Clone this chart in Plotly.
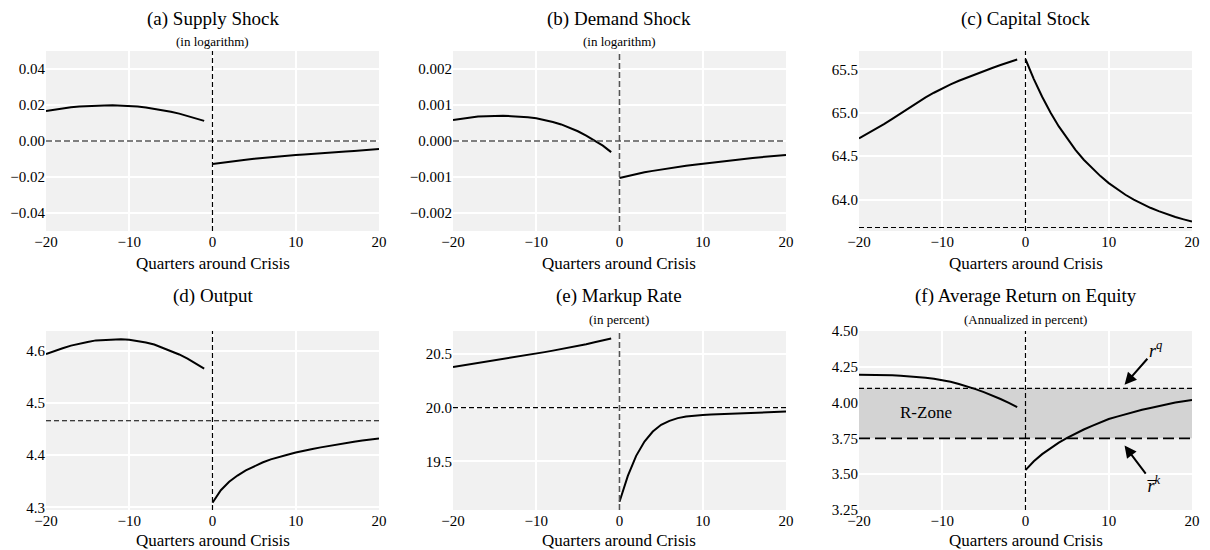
import plotly.graph_objects as go
from plotly.subplots import make_subplots

# ---------------- data ----------------
t_pre = list(range(-20, 0))
t_post = list(range(0, 21))

supply_pre = [0.0167, 0.0175, 0.0182, 0.0187, 0.0191, 0.0194, 0.0196, 0.0197, 0.0198, 0.0197,
              0.0195, 0.0191, 0.0186, 0.0179, 0.0171, 0.0162, 0.0152, 0.0140, 0.0127, 0.0112]
supply_post = [-0.0128, -0.0121, -0.0115, -0.0109, -0.0104, -0.0099, -0.0094, -0.0090, -0.0086, -0.0082,
               -0.0078, -0.0075, -0.0071, -0.0068, -0.0065, -0.0062, -0.0059, -0.0056, -0.0053, -0.0049, -0.0045]

demand_pre = [0.00058, 0.00062, 0.00065, 0.00068, 0.00069, 0.00070, 0.00070, 0.00069, 0.00068, 0.00066,
              0.00063, 0.00059, 0.00053, 0.00046, 0.00037, 0.00027, 0.00015, 0.00002, -0.00013, -0.00031]
demand_post = [-0.00103, -0.00097, -0.00092, -0.00087, -0.00083, -0.00079, -0.00075, -0.00072, -0.00069, -0.00066,
               -0.00063, -0.00060, -0.00057, -0.00055, -0.00052, -0.00050, -0.00047, -0.00045, -0.00043, -0.00041, -0.00039]

capital_pre = [64.704, 64.756, 64.811, 64.869, 64.930, 64.993, 65.057, 65.119, 65.177, 65.230,
               65.280, 65.326, 65.368, 65.407, 65.444, 65.480, 65.515, 65.549, 65.581, 65.612]
capital_post = [65.615, 65.387, 65.184, 65.004, 64.843, 64.701, 64.573, 64.460, 64.360, 64.271,
                64.191, 64.120, 64.057, 64.001, 63.952, 63.907, 63.868, 63.833, 63.801, 63.774, 63.749]

output_pre = [4.594, 4.600, 4.605, 4.610, 4.614, 4.617, 4.620, 4.621, 4.622, 4.622,
              4.621, 4.619, 4.616, 4.612, 4.606, 4.600, 4.593, 4.585, 4.576, 4.566]
output_post = [4.309, 4.333, 4.349, 4.361, 4.371, 4.379, 4.386, 4.392, 4.397, 4.401,
               4.405, 4.409, 4.412, 4.415, 4.418, 4.421, 4.423, 4.426, 4.428, 4.430, 4.432]

markup_pre = [20.376, 20.388, 20.400, 20.412, 20.424, 20.437, 20.449, 20.462, 20.474, 20.487,
              20.500, 20.514, 20.528, 20.542, 20.557, 20.572, 20.588, 20.605, 20.622, 20.640]
markup_post = [19.127, 19.367, 19.552, 19.685, 19.778, 19.840, 19.877, 19.902, 19.918, 19.927,
               19.932, 19.935, 19.938, 19.940, 19.942, 19.944, 19.947, 19.951, 19.955, 19.959, 19.963]

roe_pre = [4.195, 4.195, 4.194, 4.193, 4.191, 4.188, 4.184, 4.179, 4.173, 4.166,
           4.158, 4.145, 4.130, 4.113, 4.094, 4.073, 4.050, 4.025, 3.998, 3.968]
roe_post = [3.528, 3.590, 3.640, 3.683, 3.720, 3.754, 3.784, 3.812, 3.838, 3.862,
            3.885, 3.902, 3.919, 3.935, 3.950, 3.963, 3.977, 3.989, 4.000, 4.010, 4.018]

steady_supply = 0.0
steady_demand = 0.0
steady_capital = 63.68
steady_output = 4.466
steady_markup = 20.0
r_q = 4.10
r_k_bar = 3.75

titles = ["(a) Supply Shock", "(b) Demand Shock", "(c) Capital Stock",
          "(d) Output", "(e) Markup Rate", "(f) Average Return on Equity"]
subtitles = ["(in logarithm)", "(in logarithm)", "", "", "(in percent)", "(Annualized in percent)"]
x_ticks = [-20, -10, 0, 10, 20]
y_ticks = [
    [-0.04, -0.02, 0.0, 0.02, 0.04],
    [-0.002, -0.001, 0.0, 0.001, 0.002],
    [64.0, 64.5, 65.0, 65.5],
    [4.3, 4.4, 4.5, 4.6],
    [19.5, 20.0, 20.5],
    [3.25, 3.50, 3.75, 4.00, 4.25, 4.50],
]
y_ranges = [[-0.05, 0.05], [-0.0025, 0.0025], [63.64, 65.71], [4.295, 4.638], [19.05, 20.71], [3.25, 4.50]]
y_formats = [".2f", ".3f", ".1f", ".1f", ".1f", ".2f"]
series = [(supply_pre, supply_post), (demand_pre, demand_post), (capital_pre, capital_post),
          (output_pre, output_post), (markup_pre, markup_post), (roe_pre, roe_post)]

# ---------------- figure ----------------
W, H = 1210, 550
OFF = 8  # page body margin
FONT = "Liberation Serif"
col_px = [(46, 379), (453, 786), (859, 1192)]
row_px = [(51, 231), (331, 510)]

def px_x(p):
    return (p - OFF) / W

def px_y(p):
    return 1 - (p - OFF) / H

fig = make_subplots(rows=2, cols=3)

# R-zone band in panel (f), drawn first so the curves sit on top
fig.add_trace(go.Scatter(x=[-20, 20, 20, -20], y=[r_k_bar, r_k_bar, r_q, r_q], fill="toself",
                         fillcolor="#d3d3d3", mode="lines", line=dict(width=0),
                         showlegend=False, hoverinfo="skip"), row=2, col=3)

for i, (pre, post) in enumerate(series):
    r, c = i // 3 + 1, i % 3 + 1
    for xs, ys in ((t_pre, pre), (t_post, post)):
        fig.add_trace(go.Scatter(x=xs, y=ys, mode="lines", line=dict(color="black", width=2),
                                 showlegend=False, hoverinfo="skip"), row=r, col=c)

for i in range(6):
    r, c = i // 3, i % 3
    n = "" if i == 0 else str(i + 1)
    x0, x1 = col_px[c]
    y0, y1 = row_px[r]
    fig.layout["xaxis" + n].update(
        domain=[px_x(x0), px_x(x1)], range=[-20, 20], tickvals=x_ticks, showgrid=True,
        gridcolor="white", gridwidth=1.5, zeroline=False, showline=False, ticks="",
        automargin=False, tickfont=dict(family=FONT, size=15, color="black"))
    fig.layout["yaxis" + n].update(
        domain=[px_y(y1), px_y(y0)], range=y_ranges[i], tickvals=y_ticks[i],
        tickformat=y_formats[i], showgrid=True, gridcolor="white", gridwidth=1.5,
        zeroline=False, showline=False, ticks="", automargin=False,
        tickfont=dict(family=FONT, size=15, color="black"))
    cx = px_x((x0 + x1) / 2)
    title_y = 19 if r == 0 else 296
    fig.add_annotation(text=titles[i], x=cx, y=px_y(title_y), xref="paper", yref="paper",
                       showarrow=False, xanchor="center", yanchor="middle",
                       font=dict(family=FONT, size=19, color="black"))
    if subtitles[i]:
        fig.add_annotation(text=subtitles[i], x=cx, y=px_y(title_y + 23), xref="paper", yref="paper",
                           showarrow=False, xanchor="center", yanchor="middle",
                           font=dict(family=FONT, size=13, color="black"))
    ax_y = 263 if r == 0 else 540
    fig.add_annotation(text="Quarters around Crisis", x=cx, y=px_y(ax_y), xref="paper", yref="paper",
                       showarrow=False, xanchor="center", yanchor="middle",
                       font=dict(family=FONT, size=17, color="black"))

def vline(i, color="black", width=1.2, dash="5px,3px"):
    n = "" if i == 0 else str(i + 1)
    fig.add_shape(type="line", xref="x" + n, yref="y" + n + " domain", x0=0, x1=0, y0=0, y1=1,
                  line=dict(color=color, width=width, dash=dash))

def hline(i, yv, color="black", width=1.2, dash="5px,3px"):
    n = "" if i == 0 else str(i + 1)
    fig.add_shape(type="line", xref="x" + n + " domain", yref="y" + n, x0=0, x1=1, y0=yv, y1=yv,
                  line=dict(color=color, width=width, dash=dash))

# (a)
hline(0, steady_supply, color="#555555", width=1.6, dash="6px,3px")
vline(0)
# (b)
hline(1, steady_demand, color="#555555", width=1.6, dash="6px,3px")
vline(1, color="#555555", width=1.6, dash="6px,3px")
# (c)
vline(2)
hline(2, steady_capital)
# (d)
vline(3)
hline(3, steady_output)
# (e)
hline(4, steady_markup)
vline(4, color="#555555", width=1.6, dash="6px,3px")
# (f)
vline(5)
hline(5, r_q)
hline(5, r_k_bar, width=1.8, dash="11px,5px")

fig.add_annotation(text="R-Zone", x=-11.9, y=3.93, xref="x6", yref="y6", showarrow=False,
                   font=dict(family=FONT, size=17, color="black"))
fig.add_annotation(text="<i>r</i><sup><i>q</i></sup>", x=11.9, y=4.125, ax=15.6, ay=4.37,
                   xref="x6", yref="y6", axref="x6", ayref="y6", showarrow=True,
                   arrowhead=2, arrowsize=1.2, arrowwidth=2, arrowcolor="black", standoff=0,
                   font=dict(family=FONT, size=18, color="black"))
fig.add_annotation(text="<i>r\u0305</i><sup><i>k</i></sup>", x=11.9, y=3.70, ax=15.4, ay=3.43,
                   xref="x6", yref="y6", axref="x6", ayref="y6", showarrow=True,
                   arrowhead=2, arrowsize=1.2, arrowwidth=2, arrowcolor="black", standoff=0,
                   font=dict(family=FONT, size=18, color="black"))

fig.update_layout(width=W, height=H, margin=dict(l=0, r=0, t=0, b=0, autoexpand=False),
                  paper_bgcolor="white", plot_bgcolor="#f1f1f1",
                  font=dict(family=FONT, color="black"))

fig.write_html("out.html")
